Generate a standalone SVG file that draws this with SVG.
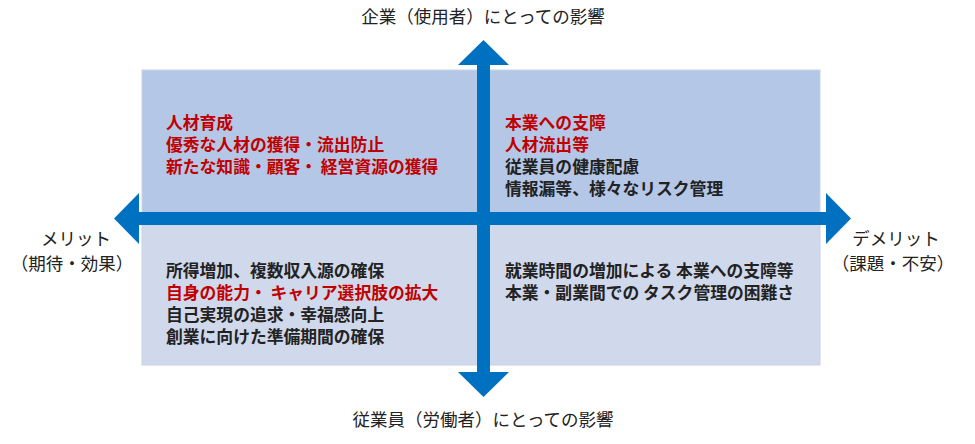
<svg xmlns="http://www.w3.org/2000/svg" width="975" height="444" viewBox="0 0 975 444">
<style>
text{font-family:"Noto Sans CJK JP","Noto Sans",sans-serif}
.b{font-size:16.8px;font-weight:bold;fill:#222}
.r{fill:#c00000}
.l{font-size:17.5px;fill:#222;text-anchor:middle}
.ax{fill:#0070c0}
</style>
<g id="panel-top"><rect x="142" y="70" width="678" height="150" fill="#b4c7e7" stroke="#c9d3e3"/></g>
<g id="panel-bottom"><rect x="142" y="220" width="678" height="145" fill="#d0d8eb" stroke="#c9d3e3"/></g>
<g id="connectors">
<rect class="ax" x="134" y="212" width="696" height="13"/>
<polygon class="ax" points="114,218.5 139,193 139,244"/>
<polygon class="ax" points="851,218.5 826,193 826,244"/>
<rect class="ax" x="477" y="60" width="13" height="316"/>
<polygon class="ax" points="483.5,40 458,65 509,65"/>
<polygon class="ax" points="483.5,397 458,372 509,372"/>
</g>
<g id="q1"><text class="b r" x="166" y="129">人材育成</text><text class="b r" x="166" y="151">優秀な人材の獲得・流出防止</text><text class="b r" x="166" y="173">新たな知識・顧客・ 経営資源の獲得</text></g>
<g id="q2"><text class="b r" x="505" y="129">本業への支障</text><text class="b r" x="505" y="151">人材流出等</text><text class="b" x="505" y="173">従業員の健康配慮</text><text class="b" x="505" y="195">情報漏等、様々なリスク管理</text></g>
<g id="q3"><text class="b" x="166" y="277">所得増加、複数収入源の確保</text><text class="b r" x="166" y="299">自身の能力・ キャリア選択肢の拡大</text><text class="b" x="166" y="321">自己実現の追求・幸福感向上</text><text class="b" x="166" y="343">創業に向けた準備期間の確保</text></g>
<g id="q4"><text class="b" x="505" y="277">就業時間の増加による 本業への支障等</text><text class="b" x="505" y="299">本業・副業間での タスク管理の困難さ</text></g>
<g id="labels">
<text class="l" x="483" y="23">企業（使用者）にとっての影響</text>
<text class="l" x="483" y="426">従業員（労働者）にとっての影響</text>
<text class="l" x="76" y="245">メリット</text><text class="l" x="72" y="270">（期待・効果）</text>
<text class="l" x="896" y="245">デメリット</text><text class="l" x="893" y="270">（課題・不安）</text>
</g>
</svg>
